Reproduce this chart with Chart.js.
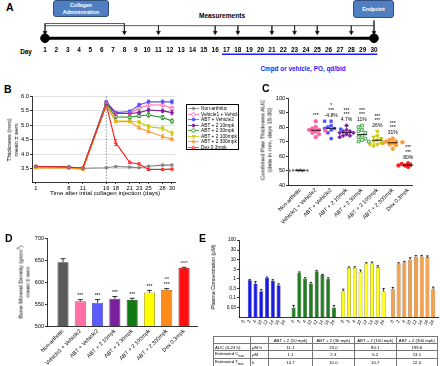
<!DOCTYPE html>
<html>
<head>
<meta charset="utf-8" />
<title>Paw thickness, bone density and exposure</title>
<script src="https://cdn.jsdelivr.net/npm/chart.js@4.4.1/dist/chart.umd.min.js"></script>
<style>
  body { margin: 0; background: #fff; font-family: "Liberation Sans", Arial, sans-serif; color: #000; }
  #page { position: relative; width: 440px; height: 366px; overflow: hidden; }
  .cv { position: absolute; }
  .t { position: absolute; transform: translate(-50%, -50%); white-space: nowrap; line-height: 1; }
  .rot { position: absolute; transform: translate(-50%, -50%) rotate(-90deg); white-space: nowrap; text-align: center; }
  .letter { position: absolute; font-weight: bold; font-size: 10.5px; line-height: 1; }
  .box { position: absolute; background: #4f7fc0; border: 0.8px solid #2f4f7f; border-radius: 3px; color: #fff;
         font-weight: bold; font-size: 5.2px; display: flex; align-items: center; justify-content: center;
         text-align: center; line-height: 1.3; box-sizing: border-box; }
  #legendB { position: absolute; left: 186px; top: 104px; width: 53px; height: 46px; border: 0.8px solid #000;
             box-sizing: border-box; overflow: hidden; padding-top: 1px; background: #fff; }
  .lrow { height: 5.5px; display: flex; align-items: center; font-size: 4.8px; white-space: nowrap; }
  .lrow canvas { margin: 0 2px 0 1px; }
  table { position: absolute; left: 213px; top: 336px; width: 225px; border-collapse: collapse; font-size: 4.3px; }
  td, th { border: 0.6px solid #777; padding: 0 1px; height: 6px; text-align: center; font-weight: normal; }
  td.l { text-align: left; }
</style>
</head>
<body>
<div id="page">
  <!-- A: study timeline -->
  <div class="letter" style="left:6px;top:2px">A</div>
  <div class="box" style="left:53px;top:0;width:56px;height:17px">Collagen<br>Administration</div>
  <div class="box" style="left:353px;top:0;width:41px;height:18px">Endpoint</div>
  <div class="t" style="left:222px;top:16px;font-weight:bold;font-size:6.6px">Measurements</div>
  <div class="t" style="left:26px;top:52px;font-weight:bold;font-size:6.4px">Day</div>
  <div class="t" style="left:303px;top:69px;font-weight:bold;font-size:6.4px;color:#1a1aff">Cmpd or vehicle, PO, qd/bid</div>
  <canvas id="cA" class="cv" width="440" height="80" style="left:0;top:0"></canvas>

  <!-- B: paw thickness -->
  <div class="letter" style="left:4px;top:84px">B</div>
  <canvas id="cB" class="cv" width="186" height="108" style="left:0;top:85px"></canvas>
  <div class="rot" style="left:13px;top:140px;font-size:6px;line-height:7px">Thickness (mm)<br>mean ± sem</div>
  <div class="t" style="left:105px;top:193px;font-size:6.2px">Time after inital collagen injection (days)</div>
  <div id="legendB"></div>

  <!-- C: AUC -->
  <div class="letter" style="left:262px;top:83px">C</div>
  <canvas id="cC" class="cv" width="220" height="140" style="left:220px;top:85px"></canvas>
  <div class="rot" style="left:266px;top:140px;font-size:5.8px;line-height:6.5px">Combined Paw Thickness AUC<br>(data in mm, days 15-30)</div>

  <!-- D: BMD -->
  <div class="letter" style="left:5px;top:233px">D</div>
  <canvas id="cD" class="cv" width="205" height="141" style="left:0;top:225px"></canvas>
  <div class="rot" style="left:23px;top:282px;font-size:5.6px;line-height:7px">Bone Mineral Density (g/cm<sup style="font-size:4px">3</sup>)<br>mean ± sem</div>

  <!-- E: exposure -->
  <div class="letter" style="left:199px;top:233px">E</div>
  <canvas id="cE" class="cv" width="235" height="105" style="left:205px;top:225px"></canvas>
  <div class="rot" style="left:213px;top:277px;font-size:5.3px">Plasma Concentration (µM)</div>
  <table id="pkTable"></table>
</div>

<script>
// ---------- data ----------
const studyDays = [1, 2, 3, 4, 5, 6, 7, 8, 9, 10, 11, 12, 13, 14, 15, 16, 17, 18, 19, 20, 21, 22, 23, 24, 25, 26, 27, 28, 29, 30];
const measureDays = [1, 8, 11, 16, 18, 21, 23, 25, 28, 30];
const collagenDays = [1, 8];
const dosingDays = [17, 30];

const groupNames = ['Non-arthritic', 'Vehicle1 + Vehicle2', 'ABT + Vehicle2', 'ABT + 2 10mpk',
                    'ABT + 2 30mpk', 'ABT + 2 100mpk', 'ABT + 2 300mpk', 'Dex 0.3mpk'];
const groupColors = ['#7f7f7f', '#ff62a5', '#5050ff', '#7d1fa0', '#1f8f1f', '#c9c900', '#ff9a30', '#ff1a1a'];

// B: paw thickness (mm) on measurement days
const bDays = [1, 8, 11, 16, 18, 21, 23, 25, 28, 30];
const bTicks = [3.5, 4.0, 4.5, 5.0, 5.5, 6.0];
const onsetDay = 16;
const thickNonArth = [3.57, 3.55, 3.52, 3.54, 3.58, 3.56, 3.54, 3.59, 3.63, 3.63];
const thickVeh     = [3.57, 3.55, 3.52, 5.78, 5.41, 5.41, 5.58, 5.69, 5.69, 5.58];
const thickAbtVeh  = [3.57, 3.55, 3.52, 5.80, 5.43, 5.47, 5.69, 5.80, 5.80, 5.80];
const thick10      = [3.57, 3.55, 3.52, 5.75, 5.41, 5.40, 5.43, 5.52, 5.49, 5.43];
const thick30      = [3.57, 3.55, 3.52, 5.72, 5.29, 5.27, 5.32, 5.35, 5.26, 5.14];
const thick100     = [3.55, 3.54, 3.50, 5.72, 5.14, 5.14, 5.10, 4.95, 4.89, 4.72];
const thick300     = [3.53, 3.52, 3.48, 5.70, 5.12, 5.12, 4.91, 4.78, 4.61, 4.52];
const thickDex     = [3.58, 3.56, 3.53, 5.70, 4.40, 3.72, 3.67, 3.48, 3.48, 3.49];
const semNonArth = [0.02, 0.02, 0.02, 0.02, 0.02, 0.02, 0.02, 0.02, 0.03, 0.03];
const semVeh     = [0.02, 0.02, 0.02, 0.04, 0.04, 0.05, 0.05, 0.06, 0.06, 0.06];
const semAbtVeh  = [0.02, 0.02, 0.02, 0.04, 0.04, 0.05, 0.06, 0.06, 0.06, 0.07];
const sem10      = [0.02, 0.02, 0.02, 0.04, 0.05, 0.05, 0.05, 0.06, 0.06, 0.07];
const sem30      = [0.02, 0.02, 0.02, 0.04, 0.05, 0.05, 0.06, 0.07, 0.07, 0.07];
const sem100     = [0.02, 0.02, 0.02, 0.04, 0.05, 0.05, 0.06, 0.07, 0.08, 0.08];
const sem300     = [0.02, 0.02, 0.02, 0.04, 0.04, 0.04, 0.05, 0.05, 0.06, 0.05];
const semDex     = [0.02, 0.02, 0.02, 0.04, 0.10, 0.04, 0.04, 0.03, 0.03, 0.03];

// C: combined paw thickness AUC per animal
const cTicks = [40, 50, 60, 70, 80, 90, 100];
const aucNonArth = [50.5, 50.2, 50.0, 49.8, 49.6, 50.3, 49.9, 50.1];
const aucVeh     = [84, 80, 79, 78, 78, 77.5, 77, 76, 75, 73];
const aucAbtVeh  = [84, 84, 81, 80, 79, 79, 78.5, 78, 76, 72];
const auc10      = [81, 78, 77, 77, 76, 76, 75, 74, 74, 73];
const auc30      = [81, 80, 78, 77, 76, 74, 73, 72, 71, 70, 70];
const auc100     = [77, 74, 73, 72, 71, 70, 69, 68, 68, 67];
const auc300     = [72, 71, 70, 70, 69.5, 69, 69, 68, 67.5, 65];
const aucDex     = [55, 54.5, 54, 54, 53.5, 53.5, 53, 52.5];
const cNotes = [[], ['***'], ['-4.8%', '***', '*'], ['4.7%', '***', '***'], ['11%', '***', '***'],
                ['26%', '***', '***'], ['31%', '***', '***'], ['80%', '***', '***']];

// D: bone mineral density
const dTicks = [500, 550, 600, 650, 700];
const bmdMean = [645, 556, 553, 562, 559, 576, 582, 632];
const bmdSem  = [8, 4, 7, 5, 4, 5, 3, 1.5];
const dNotes = [[], ['***'], ['***'], ['***'], ['***'], ['***'], ['***', '^^'], ['^^^']];

// E: plasma concentration (µM) by sampling time (h)
const eTicks = [0.03, 0.1, 0.3, 1, 3, 10, 30, 100];
const eTimes = ['0', '2', '4', '10', '12', '14', '16', '24'];
const eDoses = ['10 mpk', '30 mpk', '100 mpk', '300 mpk'];
const conc10  = [null, 0.80, 0.55, 0.22, 1.10, 0.75, 0.45, null];
const conc30  = [0.03, 2.0, 0.95, 0.55, 2.4, 1.5, 0.95, 0.03];
const conc100 = [0.22, 3.6, 3.6, 2.2, 6.0, 6.0, 3.8, 0.22];
const conc300 = [0.28, 6.0, 7.0, 9.5, 13.5, 14.5, 13.0, 0.28];
const concSem10  = [0, 0.08, 0.15, 0.05, 0.10, 0.12, 0.08, 0];
const concSem30  = [0.01, 0.2, 0.15, 0.08, 0.25, 0.15, 0.15, 0.01];
const concSem100 = [0.06, 0.4, 0.5, 0.5, 0.6, 1.2, 0.8, 0.08];
const concSem300 = [0.06, 0.6, 0.8, 2.5, 2.0, 1.5, 2.0, 0.08];

// PK table
const tableHeads = ['ABT + 2 (10 mpk)', 'ABT + 2 (30 mpk)', 'ABT + 2 (100 mpk)', 'ABT + 2 (300 mpk)'];
const aucRow  = ['11.1', '23.0', '80.1', '199.6'];
const cmaxRow = ['1.1', '2.3', '6.2', '13.1'];
const tmaxRow = ['10.7', '10.0', '10.7', '12.0'];

// ---------- shared setup ----------
Chart.defaults.animation = false;
Chart.defaults.responsive = false;
Chart.defaults.events = [];
Chart.defaults.font.family = '"Liberation Sans", Arial, sans-serif';
Chart.defaults.font.size = 5.5;
Chart.defaults.color = '#000';
Chart.defaults.plugins.legend.display = false;
Chart.defaults.plugins.tooltip.enabled = false;

function axis(opts) {
    const o = {
        display: true,
        border: { display: true, color: '#000', width: 0.8 },
        grid: { drawOnChartArea: false, drawTicks: true, tickLength: 2, tickColor: '#000', tickWidth: 0.8, offset: false },
        ticks: { padding: 1, color: '#000', autoSkip: false, font: { size: 5.5 } }
    };
    for (const k in opts) {
        if (opts[k] && typeof opts[k] === 'object' && o[k]) Object.assign(o[k], opts[k]);
        else o[k] = opts[k];
    }
    return o;
}

// error bars read from dataset.errors
const errorBars = {
    id: 'errorBars',
    afterDatasetsDraw(chart) {
        const ctx = chart.ctx;
        chart.data.datasets.forEach((ds, i) => {
            if (!ds.errors) return;
            const meta = chart.getDatasetMeta(i);
            const ys = chart.scales[meta.yAxisID];
            ctx.save();
            ctx.strokeStyle = ds.errorColor || '#000';
            ctx.lineWidth = 0.8;
            meta.data.forEach((el, j) => {
                const raw = ds.data[j];
                const v = raw && typeof raw === 'object' ? raw.y : raw;
                const e = ds.errors[j];
                if (v == null || !e) return;
                const top = ys.getPixelForValue(v + e);
                const bot = ds.upOnly ? ys.getPixelForValue(v) : ys.getPixelForValue(v - e);
                const c = ds.capWidth || 1.5;
                ctx.beginPath();
                ctx.moveTo(el.x, top); ctx.lineTo(el.x, bot);
                ctx.moveTo(el.x - c, top); ctx.lineTo(el.x + c, top);
                if (!ds.upOnly) { ctx.moveTo(el.x - c, bot); ctx.lineTo(el.x + c, bot); }
                ctx.stroke();
            });
            ctx.restore();
        });
    }
};

// stacked text labels above each group
function notesPlugin(lines, anchors, gap, step) {
    return {
        id: 'notes',
        afterDatasetsDraw(chart) {
            const ctx = chart.ctx, xs = chart.scales.x, ys = chart.scales.y;
            ctx.save();
            ctx.font = '5px "Liberation Sans", Arial';
            ctx.fillStyle = '#000';
            ctx.textAlign = 'center';
            ctx.textBaseline = 'middle';
            lines.forEach((ls, i) => {
                let y = ys.getPixelForValue(anchors[i]) - gap;
                ls.forEach(txt => { ctx.fillText(txt, xs.getPixelForValue(i), y); y -= step; });
            });
            ctx.restore();
        }
    };
}

// ---------- A: timeline ----------
const laneBox = 17.5, laneBracket = 21, laneBar = 23.5, laneStemEnd = 30, laneArrow = 31.3,
      laneLine = 38, laneDay = 52, laneDosing = 56.5;
const lastDay = studyDays[studyDays.length - 1];
const endDay = measureDays[measureDays.length - 1];
function stemTop(d) {
    if (d === endDay) return laneBox;
    return collagenDays.includes(d) ? laneBracket : laneBar;
}
const stems = [];
measureDays.forEach(d => stems.push({ x: d, y: stemTop(d) }, { x: d, y: laneStemEnd }, { x: d, y: null }));

const dayLabels = {
    id: 'dayLabels',
    afterDatasetsDraw(chart) {
        const ctx = chart.ctx, xs = chart.scales.x, ys = chart.scales.y;
        ctx.save();
        ctx.font = 'bold 6.4px "Liberation Sans", Arial';
        ctx.textAlign = 'center';
        ctx.textBaseline = 'middle';
        ctx.fillStyle = '#000';
        studyDays.forEach(d => ctx.fillText(String(d), xs.getPixelForValue(d), ys.getPixelForValue(laneDay)));
        ctx.restore();
    }
};

new Chart(document.getElementById('cA'), {
    type: 'scatter',
    data: {
        datasets: [
            { data: [{ x: studyDays[0], y: laneLine }, { x: lastDay, y: laneLine }],
              pointRadius: 4.3, backgroundColor: '#000', borderColor: '#000', clip: false },
            { data: measureDays.map(d => ({ x: d, y: laneArrow })), pointStyle: 'triangle', pointRotation: 180,
              pointRadius: 2.3, backgroundColor: '#000', borderColor: '#000', borderWidth: 0.4, clip: false },
            { data: stems, showLine: true, spanGaps: false, borderColor: '#333', borderWidth: 0.8, pointRadius: 0, clip: false },
            { data: [{ x: measureDays[0], y: laneBar }, { x: endDay, y: laneBar }],
              showLine: true, borderColor: '#333', borderWidth: 0.8, pointRadius: 0, clip: false },
            { data: [{ x: collagenDays[0], y: laneBracket }, { x: collagenDays[1], y: laneBracket }],
              showLine: true, borderColor: '#333', borderWidth: 0.8, pointRadius: 0, clip: false },
            { data: [{ x: studyDays[0], y: laneLine }, { x: lastDay, y: laneLine }],
              showLine: true, borderColor: '#000', borderWidth: 3, pointRadius: 0, clip: false },
            { data: [{ x: dosingDays[0] - 0.4, y: laneDosing }, { x: dosingDays[1] + 0.3, y: laneDosing }],
              showLine: true, borderColor: '#1a1aff', borderWidth: 1.6, pointRadius: 0, clip: false }
        ]
    },
    options: {
        layout: { padding: { left: 45, right: 66, top: 0, bottom: 0 } },
        scales: {
            x: { type: 'linear', display: false, min: studyDays[0], max: lastDay },
            y: { display: false, min: 0, max: 80, reverse: true }
        }
    },
    plugins: [dayLabels]
});

// ---------- B: thickness over time ----------
const bSeries = [
    { label: groupNames[0], mean: thickNonArth, sem: semNonArth, color: groupColors[0], fill: groupColors[0], style: 'star', rot: 0 },
    { label: groupNames[1], mean: thickVeh, sem: semVeh, color: groupColors[1], fill: '#fff', style: 'circle', rot: 0 },
    { label: groupNames[2], mean: thickAbtVeh, sem: semAbtVeh, color: groupColors[2], fill: groupColors[2], style: 'rect', rot: 0 },
    { label: groupNames[3], mean: thick10, sem: sem10, color: groupColors[3], fill: groupColors[3], style: 'rectRot', rot: 0 },
    { label: groupNames[4], mean: thick30, sem: sem30, color: groupColors[4], fill: '#fff', style: 'circle', rot: 0 },
    { label: groupNames[5], mean: thick100, sem: sem100, color: groupColors[5], fill: groupColors[5], style: 'triangle', rot: 180 },
    { label: groupNames[6], mean: thick300, sem: sem300, color: groupColors[6], fill: groupColors[6], style: 'triangle', rot: 0 },
    { label: groupNames[7], mean: thickDex, sem: semDex, color: groupColors[7], fill: '#fff', style: 'triangle', rot: 0 }
];
const bMin = 3.05, bMax = 6.0;
const bDatasets = bSeries.slice().reverse().map(s => ({
    data: bDays.map((d, i) => ({ x: d, y: s.mean[i] })),
    errors: s.sem, errorColor: s.color, capWidth: 1.5,
    showLine: true, borderColor: s.color, borderWidth: 1.1,
    pointStyle: s.style, pointRotation: s.rot, pointRadius: 1.8,
    pointBorderColor: s.color, pointBackgroundColor: s.fill, pointBorderWidth: 0.8
}));
bDatasets.push({ data: [{ x: onsetDay, y: bMin }, { x: onsetDay, y: bMax }], showLine: true,
                 borderColor: '#666', borderWidth: 0.7, borderDash: [1.5, 1.5], pointRadius: 0 });

new Chart(document.getElementById('cB'), {
    type: 'scatter',
    data: { datasets: bDatasets },
    options: {
        layout: { padding: { left: 0, right: 11, top: 11, bottom: 0 } },
        scales: {
            x: axis({ type: 'linear', min: 0.15, max: 30.65,
                      afterBuildTicks: s => { s.ticks = bDays.map(v => ({ value: v })); },
                      afterFit: s => { s.height = 11; },
                      ticks: { callback: v => String(v), font: { size: 5.8 } } }),
            y: axis({ type: 'linear', min: bMin, max: bMax,
                      afterBuildTicks: s => { s.ticks = bTicks.map(v => ({ value: v })); },
                      afterFit: s => { s.width = 32; },
                      ticks: { callback: v => v.toFixed(1), font: { size: 5.8 } },
                      grid: { drawOnChartArea: true, color: '#e2e2e2' } })
        }
    },
    plugins: [errorBars]
});

// legend for B
const legendBox = document.getElementById('legendB');
bSeries.forEach(s => {
    const row = document.createElement('div');
    row.className = 'lrow';
    const c = document.createElement('canvas');
    c.width = 11; c.height = 5;
    const g = c.getContext('2d');
    g.strokeStyle = s.color; g.lineWidth = 0.8;
    g.beginPath(); g.moveTo(0, 2.5); g.lineTo(11, 2.5); g.stroke();
    g.fillStyle = s.fill;
    if (Chart.helpers && Chart.helpers.drawPoint) {
        Chart.helpers.drawPoint(g, { pointStyle: s.style, rotation: s.rot, radius: 1.8, borderWidth: 0.8 }, 5.5, 2.5);
    }
    row.appendChild(c);
    const sp = document.createElement('span');
    sp.textContent = s.label;
    row.appendChild(sp);
    legendBox.appendChild(row);
});

// ---------- C: AUC scatter ----------
const cValues = [aucNonArth, aucVeh, aucAbtVeh, auc10, auc30, auc100, auc300, aucDex];
const cStyles = ['circle', 'circle', 'rect', 'rectRot', 'rect', 'triangle', 'circle', 'circle'];
const cRot = [0, 0, 0, 0, 0, 180, 0, 0];
const cOpen = [false, false, false, false, true, false, false, false];
const cRadius = [1.0, 1.8, 1.8, 1.9, 1.9, 2.1, 1.8, 1.8];
const cXmin = -0.8, cXmax = 7.25;
const cPxX = (412 - 288) / (cXmax - cXmin), cPxY = 87 / 60;

// simple beeswarm so equal values sit side by side
function swarm(values, r) {
    const d = 2 * r;
    const order = values.map((v, i) => i).sort((a, b) => values[b] - values[a]);
    const placed = [];
    const offs = values.map(() => 0);
    order.forEach(i => {
        const y = values[i] * cPxY;
        for (let k = 0; k < 14; k++) {
            const dx = (k === 0 ? 0 : Math.ceil(k / 2) * (k % 2 ? -1 : 1)) * d * 0.9;
            if (placed.every(p => Math.hypot(p.x - dx, p.y - y) >= d * 0.95) || k === 13) {
                offs[i] = dx / cPxX;
                placed.push({ x: dx, y });
                break;
            }
        }
    });
    return offs;
}

const cDatasets = cValues.map((vals, gi) => {
    const offs = swarm(vals, cRadius[gi]);
    return {
        data: vals.map((v, j) => ({ x: gi + offs[j], y: v })),
        pointStyle: cStyles[gi], pointRotation: cRot[gi], pointRadius: cRadius[gi],
        pointBackgroundColor: cOpen[gi] ? '#fff' : groupColors[gi], pointBorderColor: groupColors[gi],
        pointBorderWidth: 0.8
    };
});

const meanLines = {
    id: 'meanLines',
    afterDatasetsDraw(chart) {
        const ctx = chart.ctx, xs = chart.scales.x, ys = chart.scales.y;
        ctx.save();
        ctx.strokeStyle = '#000';
        ctx.lineWidth = 0.9;
        cValues.forEach((vals, gi) => {
            const m = vals.reduce((a, b) => a + b, 0) / vals.length;
            const y = ys.getPixelForValue(m);
            ctx.beginPath();
            ctx.moveTo(xs.getPixelForValue(gi - 0.33), y);
            ctx.lineTo(xs.getPixelForValue(gi + 0.33), y);
            ctx.stroke();
        });
        ctx.restore();
    }
};

new Chart(document.getElementById('cC'), {
    type: 'scatter',
    data: { datasets: cDatasets },
    options: {
        layout: { padding: { left: 0, right: 28, top: 13, bottom: 0 } },
        scales: {
            x: axis({ type: 'linear', min: cXmin, max: cXmax,
                      afterBuildTicks: s => { s.ticks = groupNames.map((n, i) => ({ value: i })); },
                      afterFit: s => { s.height = 40; },
                      grid: { drawTicks: false },
                      ticks: { callback: (v, i) => groupNames[i], minRotation: 45, maxRotation: 45, padding: 2 } }),
            y: axis({ type: 'linear', min: cTicks[0], max: cTicks[cTicks.length - 1],
                      afterBuildTicks: s => { s.ticks = cTicks.map(v => ({ value: v })); },
                      afterFit: s => { s.width = 68; },
                      ticks: { callback: v => String(v) } })
        }
    },
    plugins: [meanLines, notesPlugin(cNotes, cValues.map(v => Math.max(...v)), 6, 4.6)]
});

// ---------- D: BMD bars ----------
const bmdColors = ['#5a5a5a', '#ff6fa3', '#5a5aff', '#7b1f9e', '#127a12', '#ffff00', '#ff8c1a', '#ff1010'];
const bmdBorders = ['#333', '#b04070', '#3030b0', '#4a0f60', '#0a4a0a', '#8a8a00', '#b05a00', '#a00000'];

new Chart(document.getElementById('cD'), {
    type: 'bar',
    data: {
        datasets: [{
            data: bmdMean.map((v, i) => ({ x: i, y: v })),
            errors: bmdSem, upOnly: true, capWidth: 2.5,
            backgroundColor: bmdColors, borderColor: bmdBorders, borderWidth: 0.8,
            barPercentage: 0.8, categoryPercentage: 0.8
        }]
    },
    options: {
        layout: { padding: { left: 0, right: 8, top: 13, bottom: 0 } },
        scales: {
            x: axis({ type: 'linear', min: -0.925, max: 7.75, offset: false,
                      afterBuildTicks: s => { s.ticks = groupNames.map((n, i) => ({ value: i })); },
                      afterFit: s => { s.height = 40; },
                      grid: { drawTicks: false },
                      ticks: { callback: (v, i) => groupNames[i], minRotation: 45, maxRotation: 45, padding: 2 } }),
            y: axis({ type: 'linear', min: dTicks[0], max: dTicks[dTicks.length - 1],
                      afterBuildTicks: s => { s.ticks = dTicks.map(v => ({ value: v })); },
                      afterFit: s => { s.width = 47; },
                      ticks: { callback: v => String(v) } })
        }
    },
    plugins: [errorBars, notesPlugin(dNotes, bmdMean.map((m, i) => m + bmdSem[i]), 4, 4.6)]
});

// ---------- E: plasma concentration ----------
const eGroupPitch = 8.6;
const eSeries = [
    { vals: conc10, sem: concSem10, color: '#1a1ae6', border: '#000080' },
    { vals: conc30, sem: concSem30, color: '#1f7f1f', border: '#0a3a0a' },
    { vals: conc100, sem: concSem100, color: '#ffff1a', border: '#6a6a00' },
    { vals: conc300, sem: concSem300, color: '#f7a04a', border: '#8a4a10' }
];
const eDatasets = eSeries.map((s, g) => ({
    data: s.vals.map((v, k) => ({ x: g * eGroupPitch + k, y: v })),
    errors: s.sem, upOnly: true, capWidth: 1.2,
    backgroundColor: s.color, borderColor: s.border, borderWidth: 0.6,
    grouped: false, barPercentage: 0.85, categoryPercentage: 0.8
}));
const eTickPos = [];
eSeries.forEach((s, g) => eTimes.forEach((t, k) => eTickPos.push({ value: g * eGroupPitch + k })));

new Chart(document.getElementById('cE'), {
    type: 'bar',
    data: { datasets: eDatasets },
    options: {
        layout: { padding: { left: 0, right: 0, top: 15, bottom: 0 } },
        scales: {
            x: axis({ type: 'linear', min: -0.86, max: 33.8, offset: false,
                      afterBuildTicks: s => { s.ticks = eTickPos.slice(); },
                      afterFit: s => { s.height = 13; },
                      grid: { drawTicks: false },
                      ticks: { callback: (v, i) => eTimes[i % eTimes.length], minRotation: 60, maxRotation: 60,
                               padding: 2, font: { size: 4.6 } } }),
            y: axis({ type: 'logarithmic', min: 0.01, max: 100,
                      afterBuildTicks: s => { s.ticks = eTicks.map(v => ({ value: v })); },
                      afterFit: s => { s.width = 34; },
                      ticks: { callback: v => String(v), font: { size: 4.8 } } })
        }
    },
    plugins: [errorBars]
});

// PK table
const tbl = document.getElementById('pkTable');
function addRow(cells, heads) {
    const tr = document.createElement('tr');
    cells.forEach((c, i) => {
        const td = document.createElement(heads ? 'th' : 'td');
        td.innerHTML = c;
        if (i < 2) td.className = 'l';
        tr.appendChild(td);
    });
    tbl.appendChild(tr);
}
addRow(['', ''].concat(tableHeads), true);
addRow(['AUC (0-24 h)', 'µM·h'].concat(aucRow));
addRow(['Estimated C<sub style="font-size:3px">max</sub>', 'µM'].concat(cmaxRow));
addRow(['Estimated T<sub style="font-size:3px">max</sub>', 'h'].concat(tmaxRow));
const widths = [36, 16, 45, 43, 43, 42];
tbl.querySelectorAll('tr:first-child th').forEach((th, i) => { th.style.width = widths[i] + 'px'; });
</script>
</body>
</html>
